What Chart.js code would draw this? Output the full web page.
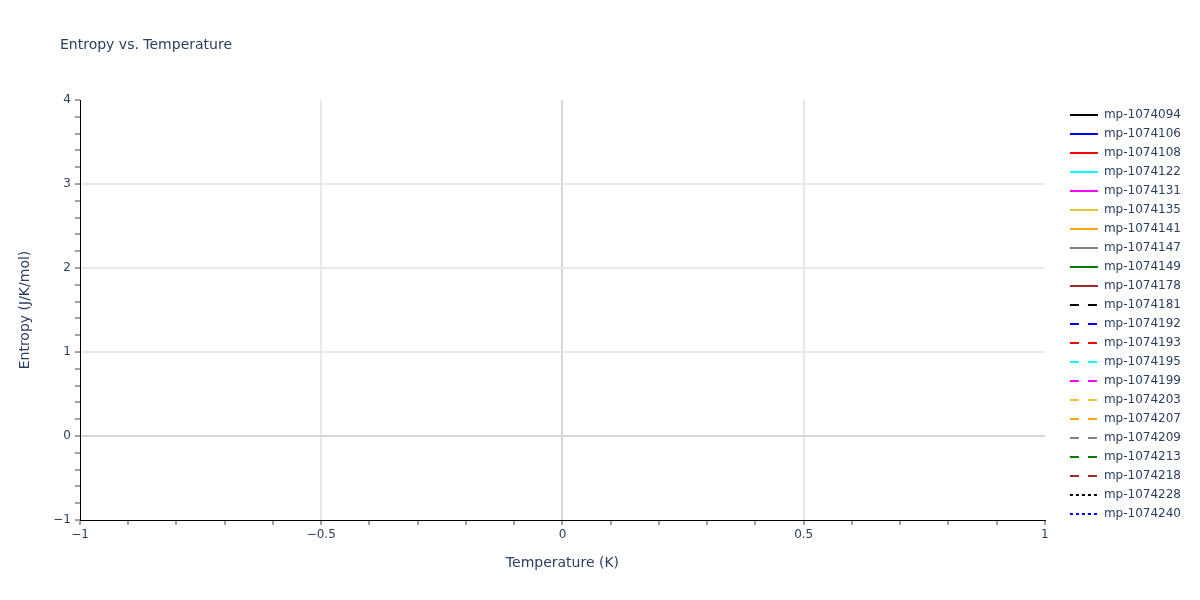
<!DOCTYPE html>
<html>
<head>
<meta charset="utf-8">
<script src="https://cdn.jsdelivr.net/npm/chart.js@4.4.1/dist/chart.umd.min.js"></script>
<style>
  html, body { margin: 0; padding: 0; background: #fff; }
  #wrap { width: 1200px; height: 600px; position: relative; }
</style>
</head>
<body>
<div id="wrap"><canvas id="entropyChart"></canvas></div>
<script>
// legend names, in the order plotly listed them
const materials = [
  'mp-1074094', 'mp-1074106', 'mp-1074108', 'mp-1074122', 'mp-1074131', 'mp-1074135',
  'mp-1074141', 'mp-1074147', 'mp-1074149', 'mp-1074178', 'mp-1074181', 'mp-1074192',
  'mp-1074193', 'mp-1074195', 'mp-1074199', 'mp-1074203', 'mp-1074207', 'mp-1074209',
  'mp-1074213', 'mp-1074218', 'mp-1074228', 'mp-1074240'
];
const lineColors = [
  '#000000', '#0000ff', '#ff0000', '#00ffff', '#ff00ff', '#ebc437', '#ffa500', '#808080', '#008000', '#a52a2a',
  '#000000', '#0000ff', '#ff0000', '#00ffff', '#ff00ff', '#ebc437', '#ffa500', '#808080', '#008000', '#a52a2a',
  '#000000', '#0000ff'
];
const lineStyles = [
  'solid', 'solid', 'solid', 'solid', 'solid', 'solid', 'solid', 'solid', 'solid', 'solid',
  'dash', 'dash', 'dash', 'dash', 'dash', 'dash', 'dash', 'dash', 'dash', 'dash',
  'dot', 'dot'
];
// the figure has no points at all, so every trace is empty
const temperatureK = [];
const entropyValues = [
  [], [], [], [], [], [], [], [], [], [], [],
  [], [], [], [], [], [], [], [], [], [], []
];
const xTickLabels = [-1, -0.5, 0, 0.5, 1];
const yTickLabels = [-1, 0, 1, 2, 3, 4];

const titleText = 'Entropy vs. Temperature';
const textColor = '#2a3f5f';
const dashFor = { solid: [], dash: [9, 9], dot: [3, 3] };

Chart.defaults.font.family = '"DejaVu Sans", Verdana, sans-serif';
Chart.defaults.color = textColor;

const minus = v => (v < 0 ? '\u2212' + Math.abs(v) : String(v));
const near = (v, list) => list.some(t => Math.abs(t - v) < 1e-9);

// grid: light lines on labelled ticks, darker zero line, nothing on the edges
function gridColor(ctx, labels, edges) {
  const v = ctx.tick ? ctx.tick.value : NaN;
  if (Math.abs(v) < 1e-9) return '#d6d6d6';
  if (near(v, edges)) return 'rgba(0,0,0,0)';
  return near(v, labels) ? '#e8e8e8' : 'rgba(0,0,0,0)';
}

const plotTitle = {
  id: 'plotTitle',
  afterDraw(chart) {
    const c = chart.ctx;
    c.save();
    c.font = '14px "DejaVu Sans", Verdana, sans-serif';
    c.fillStyle = textColor;
    c.textBaseline = 'middle';
    c.fillText(titleText, 60, 45);
    c.restore();
  }
};

const datasets = materials.map((name, i) => ({
  label: name,
  data: temperatureK.map((t, j) => ({ x: t, y: entropyValues[i][j] })),
  borderColor: lineColors[i],
  backgroundColor: lineColors[i],
  borderDash: dashFor[lineStyles[i]],
  borderWidth: 2,
  pointRadius: 0,
  fill: false
}));

// legend samples take dash and width from the line, not from the (absent) points
const legendLabels = chart =>
  Chart.defaults.plugins.legend.labels.generateLabels(chart).map(item => {
    const ds = chart.data.datasets[item.datasetIndex];
    item.lineDash = ds.borderDash;
    item.lineWidth = ds.borderWidth;
    item.strokeStyle = ds.borderColor;
    return item;
  });

new Chart(document.getElementById('entropyChart'), {
  type: 'line',
  data: { datasets },
  options: {
    responsive: true,
    maintainAspectRatio: false,
    animation: false,
    layout: { padding: { left: 10, top: 100, right: 9, bottom: 20 } },
    plugins: {
      title: { display: false },
      tooltip: { enabled: false },
      legend: {
        position: 'right',
        align: 'start',
        title: { display: true, text: '', padding: 0, font: { size: 1, lineHeight: 2 } },
        labels: {
          usePointStyle: true,
          pointStyle: 'line',
          pointStyleWidth: 28,
          padding: 7,
          color: textColor,
          font: { size: 12 },
          generateLabels: legendLabels
        }
      }
    },
    scales: {
      x: {
        type: 'linear',
        min: -1,
        max: 1,
        title: { display: true, text: 'Temperature (K)', font: { size: 14 }, color: textColor, padding: { top: 0, bottom: 8.6 } },
        ticks: {
          stepSize: 0.1,
          maxTicksLimit: 100,
          autoSkip: false,
          maxRotation: 0,
          padding: 3,
          color: textColor,
          font: { size: 12 },
          callback: v => (near(v, xTickLabels) ? minus(v) : '')
        },
        grid: {
          color: c => gridColor(c, xTickLabels, [-1, 1]),
          lineWidth: 2,
          tickColor: '#444',
          tickWidth: 1,
          tickLength: 5
        },
        border: { display: true, color: '#000', width: 1 },
        afterFit: s => { s.height = 60; }
      },
      y: {
        type: 'linear',
        min: -1,
        max: 4,
        title: { display: true, text: 'Entropy (J/K/mol)', font: { size: 14 }, color: textColor, padding: { top: 6.6, bottom: 0 } },
        ticks: {
          stepSize: 0.2,
          maxTicksLimit: 100,
          autoSkip: false,
          padding: 4,
          color: textColor,
          font: { size: 12 },
          callback: v => (near(v, yTickLabels) ? minus(v) : '')
        },
        grid: {
          color: c => gridColor(c, yTickLabels, [-1, 4]),
          lineWidth: 2,
          tickColor: '#444',
          tickWidth: 1,
          tickLength: 5
        },
        border: { display: true, color: '#000', width: 1 },
        afterFit: s => { s.width = 70; }
      },
      // spacer between plot and legend
      gap: {
        type: 'linear',
        position: 'right',
        display: true,
        ticks: { display: false },
        grid: { display: false, drawTicks: false },
        border: { display: false },
        afterFit: s => { s.width = 18; }
      }
    }
  },
  plugins: [plotTitle]
});
</script>
</body>
</html>
